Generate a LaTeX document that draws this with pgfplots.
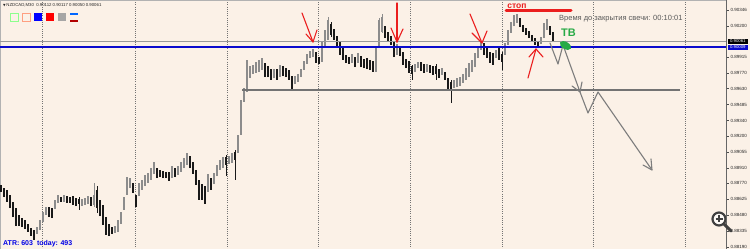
\documentclass[border=0pt]{standalone}
\usepackage{pgfplots}
\pgfplotsset{compat=1.18}
\usepackage{pgfplotstable}
\usepackage{fontspec}
\setmainfont{Liberation Sans}
\newfontfamily\dejavu{DejaVu Sans}
\definecolor{bg}{RGB}{251,241,231}
\definecolor{bullc}{RGB}{140,140,140}
\definecolor{bearc}{RGB}{25,25,25}
\definecolor{mtblue}{RGB}{10,10,205}
\definecolor{arrowred}{RGB}{235,30,30}
\definecolor{tvgreen}{RGB}{40,170,70}
\definecolor{projgray}{RGB}{125,125,125}

\pgfplotstableread{
x o h l c
37 0.88308 0.88371 0.88308 0.88371
40 0.88344 0.88435 0.88344 0.88435
43 0.88417 0.88508 0.88417 0.88508
46 0.88481 0.88553 0.88481 0.88553
55 0.88535 0.88617 0.88535 0.88617
58 0.88590 0.88663 0.88590 0.88663
64 0.88599 0.88663 0.88599 0.88663
82 0.88562 0.88626 0.88562 0.88626
85 0.88572 0.88635 0.88572 0.88635
88 0.88581 0.88653 0.88581 0.88653
94 0.88572 0.88772 0.88553 0.88663
115 0.88317 0.88380 0.88317 0.88380
118 0.88326 0.88435 0.88326 0.88435
121 0.88399 0.88508 0.88399 0.88508
124 0.88526 0.88644 0.88526 0.88644
127 0.88663 0.88826 0.88663 0.88826
130 0.88726 0.88817 0.88726 0.88817
139 0.88653 0.88772 0.88653 0.88772
142 0.88708 0.88799 0.88708 0.88799
145 0.88744 0.88845 0.88744 0.88845
148 0.88772 0.88863 0.88772 0.88863
151 0.88799 0.88908 0.88799 0.88908
154 0.88854 0.88963 0.88854 0.88963
172 0.88817 0.88926 0.88817 0.88926
178 0.88845 0.88926 0.88845 0.88926
181 0.88872 0.88963 0.88872 0.88963
184 0.88908 0.88999 0.88908 0.88999
187 0.88936 0.89045 0.88936 0.89045
208 0.88690 0.88854 0.88690 0.88854
214 0.88763 0.88863 0.88763 0.88863
217 0.88835 0.88936 0.88835 0.88936
220 0.88890 0.88981 0.88890 0.88981
223 0.88908 0.89008 0.88908 0.89008
229 0.88945 0.89017 0.88945 0.89017
232 0.88954 0.89045 0.88954 0.89045
238 0.89045 0.89209 0.89045 0.89209
241 0.89209 0.89527 0.89209 0.89527
244 0.89509 0.89636 0.89509 0.89636
247 0.89600 0.89891 0.89600 0.89891
250 0.89727 0.89836 0.89727 0.89836
253 0.89764 0.89846 0.89764 0.89846
256 0.89773 0.89873 0.89773 0.89873
259 0.89782 0.89891 0.89782 0.89891
262 0.89800 0.89909 0.89800 0.89909
274 0.89727 0.89809 0.89727 0.89809
280 0.89736 0.89846 0.89736 0.89846
295 0.89673 0.89745 0.89673 0.89745
298 0.89691 0.89764 0.89691 0.89764
301 0.89736 0.89809 0.89736 0.89809
304 0.89800 0.89882 0.89800 0.89882
307 0.89855 0.89946 0.89855 0.89946
310 0.89909 0.89973 0.89909 0.89973
313 0.89918 0.89991 0.89918 0.89991
322 0.89873 0.90055 0.89873 0.90055
325 0.90009 0.90164 0.90009 0.90164
328 0.90073 0.90282 0.90073 0.90255
352 0.89864 0.89946 0.89864 0.89946
358 0.89864 0.89955 0.89864 0.89955
376 0.89782 0.90009 0.89782 0.90009
379 0.90009 0.90273 0.90009 0.90255
382 0.90146 0.90310 0.90137 0.90282
397 0.89937 0.90037 0.89937 0.90037
415 0.89782 0.89855 0.89782 0.89855
418 0.89818 0.89873 0.89818 0.89873
427 0.89782 0.89855 0.89782 0.89855
442 0.89755 0.89818 0.89755 0.89818
454 0.89636 0.89709 0.89636 0.89709
457 0.89645 0.89727 0.89645 0.89727
460 0.89654 0.89736 0.89654 0.89736
463 0.89682 0.89764 0.89682 0.89764
466 0.89709 0.89818 0.89709 0.89818
469 0.89736 0.89864 0.89736 0.89864
472 0.89782 0.89891 0.89782 0.89891
475 0.89827 0.89955 0.89827 0.89955
478 0.89909 0.90009 0.89909 0.90009
481 0.89982 0.90064 0.89982 0.90064
496 0.89909 0.89982 0.89909 0.89982
505 0.89937 0.90046 0.89937 0.90046
508 0.90028 0.90164 0.90028 0.90164
511 0.90137 0.90237 0.90137 0.90237
514 0.90200 0.90301 0.90200 0.90301
517 0.90228 0.90310 0.90228 0.90310
541 0.90037 0.90100 0.90037 0.90100
544 0.90091 0.90228 0.90091 0.90228
547 0.90164 0.90264 0.90164 0.90264
}\bull

\pgfplotstableread{
x o h l c
1 0.88754 0.88754 0.88690 0.88690
4 0.88726 0.88726 0.88644 0.88644
7 0.88708 0.88708 0.88599 0.88599
10 0.88663 0.88663 0.88544 0.88544
13 0.88599 0.88599 0.88462 0.88462
16 0.88544 0.88544 0.88380 0.88380
19 0.88481 0.88481 0.88380 0.88380
22 0.88453 0.88453 0.88371 0.88371
25 0.88435 0.88435 0.88353 0.88353
28 0.88399 0.88399 0.88326 0.88326
31 0.88362 0.88362 0.88289 0.88289
34 0.88344 0.88344 0.88253 0.88253
49 0.88553 0.88553 0.88462 0.88462
52 0.88544 0.88544 0.88453 0.88453
61 0.88644 0.88644 0.88599 0.88599
67 0.88653 0.88653 0.88590 0.88590
70 0.88644 0.88644 0.88590 0.88590
73 0.88653 0.88653 0.88572 0.88572
76 0.88635 0.88635 0.88562 0.88562
79 0.88626 0.88644 0.88526 0.88581
91 0.88644 0.88644 0.88562 0.88562
97 0.88708 0.88744 0.88499 0.88544
100 0.88617 0.88617 0.88471 0.88471
103 0.88572 0.88572 0.88390 0.88390
106 0.88462 0.88462 0.88299 0.88299
109 0.88399 0.88399 0.88289 0.88289
112 0.88371 0.88371 0.88308 0.88308
133 0.88772 0.88772 0.88681 0.88681
136 0.88663 0.88663 0.88553 0.88553
157 0.88908 0.88908 0.88817 0.88817
160 0.88890 0.88890 0.88826 0.88826
163 0.88881 0.88881 0.88817 0.88817
166 0.88872 0.88872 0.88817 0.88817
169 0.88872 0.88872 0.88790 0.88790
175 0.88908 0.88908 0.88826 0.88826
190 0.89017 0.89017 0.88908 0.88908
193 0.88963 0.88963 0.88854 0.88854
196 0.88890 0.88890 0.88754 0.88754
199 0.88799 0.88799 0.88617 0.88617
202 0.88763 0.88763 0.88617 0.88617
205 0.88744 0.88744 0.88581 0.88581
211 0.88817 0.88817 0.88708 0.88708
226 0.89008 0.89027 0.88835 0.88936
235 0.89054 0.89072 0.88799 0.88981
265 0.89864 0.89864 0.89736 0.89736
268 0.89836 0.89836 0.89736 0.89736
271 0.89809 0.89809 0.89709 0.89709
277 0.89809 0.89809 0.89709 0.89709
283 0.89836 0.89836 0.89745 0.89745
286 0.89818 0.89818 0.89736 0.89736
289 0.89800 0.89800 0.89709 0.89709
292 0.89745 0.89745 0.89618 0.89618
316 0.89964 0.89964 0.89864 0.89864
319 0.89918 0.89918 0.89855 0.89855
331 0.90219 0.90237 0.90100 0.90119
334 0.90173 0.90173 0.90073 0.90073
337 0.90109 0.90109 0.90009 0.90009
340 0.90055 0.90055 0.89937 0.89937
343 0.90000 0.90000 0.89891 0.89891
346 0.89937 0.89937 0.89864 0.89864
349 0.89918 0.89918 0.89855 0.89855
355 0.89918 0.89918 0.89827 0.89827
361 0.89927 0.89927 0.89827 0.89827
364 0.89900 0.89900 0.89818 0.89818
367 0.89909 0.89909 0.89809 0.89809
370 0.89891 0.89891 0.89800 0.89800
373 0.89882 0.89882 0.89782 0.89782
385 0.90200 0.90200 0.90091 0.90091
388 0.90146 0.90146 0.90055 0.90055
391 0.90109 0.90109 0.90028 0.90028
394 0.90055 0.90055 0.89918 0.89918
400 0.90009 0.90009 0.89927 0.89927
403 0.89964 0.89964 0.89846 0.89846
406 0.89900 0.89900 0.89818 0.89818
409 0.89882 0.89882 0.89773 0.89773
412 0.89836 0.89846 0.89709 0.89764
421 0.89873 0.89873 0.89791 0.89791
424 0.89855 0.89855 0.89773 0.89773
430 0.89846 0.89846 0.89773 0.89773
433 0.89836 0.89836 0.89755 0.89755
436 0.89836 0.89855 0.89709 0.89764
439 0.89809 0.89809 0.89727 0.89727
445 0.89782 0.89782 0.89709 0.89709
448 0.89727 0.89727 0.89618 0.89618
451 0.89691 0.89709 0.89500 0.89618
484 0.90046 0.90046 0.89937 0.89937
487 0.90000 0.90000 0.89909 0.89909
490 0.89964 0.89964 0.89864 0.89864
493 0.89955 0.89955 0.89846 0.89846
499 0.90000 0.90000 0.89891 0.89891
502 0.89946 0.89964 0.89800 0.89873
520 0.90273 0.90273 0.90191 0.90191
523 0.90210 0.90210 0.90146 0.90146
526 0.90182 0.90182 0.90119 0.90119
529 0.90155 0.90155 0.90091 0.90091
532 0.90119 0.90119 0.90055 0.90055
535 0.90091 0.90091 0.90028 0.90028
538 0.90064 0.90064 0.90000 0.90000
550 0.90200 0.90200 0.90119 0.90119
553 0.90146 0.90146 0.90061 0.90061
}\bear

\begin{document}
\begin{tikzpicture}
\fill[bg] (0,0) rectangle (750pt,249pt);
% day separators
\begin{scope}[x=1pt,y=-1pt,shift={(0pt,249pt)}]
\foreach \gx in {42,135,227,318,410,502,593,685}
  \draw[black!55, line width=0.5pt, dash pattern=on 1pt off 1.2pt] (\gx,0) -- (\gx,249);
\draw[black!30, line width=0.5pt] (0.25,0.25) -- (0.25,249) (0,0.25) -- (726,0.25);
\end{scope}

\begin{axis}[at={(0pt,0pt)}, anchor=south west, scale only axis,
  width=726pt, height=249pt,
  xmin=0, xmax=726, ymin=0.881711, ymax=0.90437,
  axis x line=none, axis y line*=right,
  ytick={0.90346,0.90200,0.89915,0.89770,0.89630,0.89485,0.89340,0.89200,0.89055,0.88910,0.88770,0.88625,0.88480,0.88335,0.88190},
  yticklabels={0.90346,0.90200,0.89915,0.89770,0.89630,0.89485,0.89340,0.89200,0.89055,0.88910,0.88770,0.88625,0.88480,0.88335,0.88190},
  yticklabel style={font=\fontsize{4.5}{5}\selectfont, text=black!85, xshift=-1.5pt},
  tick align=outside, major tick length=2.5pt,
  tick style={black!70, line width=0.4pt},
  axis line style={draw=black!60, line width=0.7pt},
  clip=true]

% wicks and bodies
\addplot[draw=none, mark=none, forget plot, error bars/.cd, y dir=plus, y explicit, error mark=none,
  error bar style={draw=bullc, line width=0.6pt}]
  table[x=x, y=l, y error plus expr=\thisrow{h}-\thisrow{l}] {\bull};
\addplot[draw=none, mark=none, forget plot, error bars/.cd, y dir=plus, y explicit, error mark=none,
  error bar style={draw=bullc, line width=1.9pt}]
  table[x=x, y=o, y error plus expr=\thisrow{c}-\thisrow{o}] {\bull};
\addplot[draw=none, mark=none, forget plot, error bars/.cd, y dir=plus, y explicit, error mark=none,
  error bar style={draw=bearc, line width=0.6pt}]
  table[x=x, y=l, y error plus expr=\thisrow{h}-\thisrow{l}] {\bear};
\addplot[draw=none, mark=none, forget plot, error bars/.cd, y dir=plus, y explicit, error mark=none,
  error bar style={draw=bearc, line width=1.9pt}]
  table[x=x, y=c, y error plus expr=\thisrow{o}-\thisrow{c}] {\bear};

% price levels
\addplot[black!40, line width=0.6pt, forget plot] coordinates {(0,0.90061) (726,0.90061)};
\addplot[mtblue, line width=1.3pt, forget plot] coordinates {(0,0.90009) (726,0.90009)};
\addplot[black!55, line width=1.1pt, forget plot] coordinates {(242,0.89618) (680,0.89618)};
\end{axis}

\begin{scope}[x=1pt,y=-1pt,shift={(0pt,249pt)}]
% price boxes on the scale
\fill[black] (727.5,38.6) rectangle (748,43.6);
\node[text=white, font=\fontsize{4.3}{4.5}\selectfont, inner sep=0pt] at (737.8,41.1) {0.90061};
\fill[mtblue] (727.5,44.6) rectangle (748,49.6);
\node[text=white, font=\fontsize{4.3}{4.5}\selectfont, inner sep=0pt] at (737.8,47.1) {0.90009};

% red arrows
\begin{scope}[arrowred, line width=1.1pt, line cap=round, line join=round]
\draw (302,13) -- (313,42);
\draw (306,34) -- (313,42) -- (317,30);
\draw (397,3) -- (397,42);
\draw (391,28) -- (397,42) -- (403,29);
\draw (470,14) -- (482,43);
\draw (472,33) -- (482,43) -- (487,31);
\draw (528,78) -- (536,49);
\draw (529,57) -- (536,49) -- (543,57);
\end{scope}

% stop label
\node[text=arrowred, font=\bfseries\fontsize{8.5}{8.5}\selectfont, inner sep=0pt] at (517,6.5) {стоп};
\draw[arrowred, line width=3pt, line cap=round] (506,10.8) -- (571,10.8);

% projection path
\begin{scope}[projgray, line width=1.1pt, line cap=round, line join=round]
\draw (550,43) -- (558,64) -- (563,45) -- (580,92) -- (588,113) -- (598,92) -- (652,170);
\draw (572,86) -- (580,92) -- (582,82);
\draw (643,165) -- (652,170) -- (651,159);
\end{scope}

% green TB and blob
\node[text=tvgreen, font=\bfseries\fontsize{11}{11}\selectfont, inner sep=0pt] at (568.5,33) {ТВ};
\fill[tvgreen, rotate around={-30:(565.5,45.5)}] (565.5,45.5) ellipse (6.2pt and 3.6pt);

% candle timer
\node[anchor=west, text=black!65, font=\fontsize{7.5}{8}\selectfont, inner sep=0pt] at (559,19) {Время до закрытия свечи: 00:10:01};

% top-left header
\node[anchor=west, text=black!85, font=\fontsize{4.3}{5}\selectfont, inner sep=0pt] at (3,5) {{\dejavu\fontsize{3.3}{4}\selectfont ▼}\,NZDCAD,M30\ \ 0.90112 0.90117 0.90050 0.90061};
\draw[green!45, line width=0.8pt] (10.5,13.5) rectangle (18,21);
\draw[orange!50!red!50, line width=0.8pt] (22.5,13.5) rectangle (30,21);
\fill[blue] (34,13) rectangle (42,21);
\fill[red] (46,13) rectangle (54,21);
\fill[black!35] (58,13) rectangle (66,21);
\draw[blue!60!cyan, line width=1.1pt] (70,14) -- (78,14);
\draw[red!70!black, line width=1.1pt] (70,21) -- (78,21);

% ATR
\node[anchor=west, text=blue!90!black, font=\bfseries\fontsize{7}{7}\selectfont, inner sep=0pt] at (3,244) {ATR: 603\hspace{4pt}today: 493};

% magnifier
\fill[white, opacity=0.7] (719,219) circle (7.5);
\draw[black!75, line width=2.2pt] (719,219) circle (6.5);
\draw[black!75, line width=1.4pt] (715.5,219) -- (722.5,219) (719,215.5) -- (719,222.5);
\draw[black!75, line width=3pt, line cap=round] (724,224) -- (731,231);
\end{scope}

\pgfresetboundingbox
\useasboundingbox (0,0) rectangle (750pt,249pt);
\end{tikzpicture}
\end{document}
